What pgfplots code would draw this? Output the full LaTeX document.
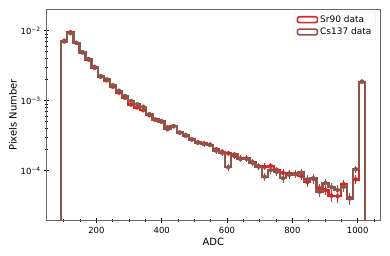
\documentclass[border=0pt]{standalone}
\usepackage{pgfplots}
\usepackage{pgfplotstable}
\pgfplotsset{compat=1.18}
\usepackage{fontspec}
\setmainfont{DejaVu Sans}
\definecolor{srred}{HTML}{D62728}
\definecolor{csbrown}{HTML}{8C564B}
\pgfplotstableread{
x      sr       srerr    cs       cserr
92.3   1e-7     0        1e-7     0
92.3   7.2e-3   1.02e-4  7.0e-3   1.0e-4
110.9  9.5e-3   1.17e-4  9.2e-3   1.15e-4
129.5  6.7e-3   9.8e-5   6.7e-3   9.8e-5
148.1  4.9e-3   8.4e-5   4.9e-3   8.4e-5
166.7  3.85e-3  7.4e-5   3.95e-3  7.5e-5
185.3  2.95e-3  6.5e-5   3.05e-3  6.6e-5
203.9  2.2e-3   5.6e-5   2.25e-3  5.7e-5
222.5  1.95e-3  5.3e-5   2.02e-3  5.4e-5
241.1  1.58e-3  4.8e-5   1.67e-3  4.9e-5
259.7  1.30e-3  4.3e-5   1.39e-3  4.5e-5
278.3  1.10e-3  4.0e-5   1.17e-3  4.1e-5
296.9  8.8e-4   3.6e-5   9.9e-4   3.8e-5
315.5  8.0e-4   3.4e-5   8.9e-4   3.6e-5
334.1  7.3e-4   3.2e-5   8.2e-4   3.4e-5
352.7  6.2e-4   3.0e-5   6.45e-4  3.0e-5
371.3  5.3e-4   2.8e-5   5.4e-4   2.8e-5
389.9  5.1e-4   2.7e-5   5.0e-4   2.7e-5
408.5  4.15e-4  2.4e-5   3.9e-4   2.4e-5
427.1  4.3e-4   2.5e-5   4.35e-4  2.5e-5
445.7  3.5e-4   2.2e-5   3.5e-4   2.2e-5
464.3  3.15e-4  2.1e-5   3.25e-4  2.2e-5
482.9  2.8e-4   2.0e-5   2.8e-4   2.0e-5
501.5  2.55e-4  1.9e-5   2.5e-4   1.9e-5
520.1  2.45e-4  1.9e-5   2.4e-4   1.9e-5
538.7  2.35e-4  1.8e-5   2.33e-4  1.8e-5
557.3  2.02e-4  1.7e-5   1.93e-4  1.7e-5
575.9  1.87e-4  1.6e-5   1.8e-4   1.6e-5
594.5  1.77e-4  1.6e-5   1.12e-4  1.3e-5
613.1  1.62e-4  1.5e-5   1.71e-4  1.6e-5
631.7  1.50e-4  1.5e-5   1.46e-4  1.45e-5
650.3  1.50e-4  1.5e-5   1.48e-4  1.46e-5
668.9  1.32e-4  1.4e-5   1.30e-4  1.37e-5
687.5  1.16e-4  1.3e-5   1.14e-4  1.28e-5
706.1  1.14e-4  1.3e-5   8.2e-5   1.09e-5
724.7  1.17e-4  1.3e-5   1.02e-4  1.21e-5
743.3  1.02e-4  1.2e-5   9.6e-5   1.18e-5
761.9  9.3e-5   1.16e-5  7.8e-5   1.06e-5
780.5  9.1e-5   1.14e-5  8.7e-5   1.12e-5
799.1  9.0e-5   1.14e-5  8.9e-5   1.13e-5
817.7  8.4e-5   1.1e-5   9.4e-5   1.16e-5
836.3  6.9e-5   1.0e-5   7.5e-5   1.04e-5
854.9  7.6e-5   1.05e-5  7.8e-5   1.06e-5
873.5  5.6e-5   9.0e-6   5.0e-5   8.5e-6
892.1  5.3e-5   8.7e-6   6.7e-5   9.8e-6
910.7  4.4e-5   8.0e-6   5.8e-5   9.1e-6
929.3  4.3e-5   7.9e-6   5.3e-5   8.7e-6
947.9  6.4e-5   9.6e-6   5.9e-5   9.2e-6
966.5  4.1e-5   7.7e-6   4.0e-5   7.6e-6
985.1  7.5e-5   1.04e-5  1.05e-4  1.23e-5
1003.7 1.87e-3  5.2e-5   1.87e-3  5.2e-5
1022.3 1.87e-3  0        1.87e-3  0
1022.3 1e-7     0        1e-7     0
}\histdata
\begin{document}
\begin{tikzpicture}
\path[use as bounding box] (-46.7bp,-35.3bp) rectangle (343.3bp,220.7bp);
\begin{axis}[
  at={(0,0)}, anchor=south west,
  scale only axis, width=333.3bp, height=211.7bp,
  ymode=log,
  xmin=47.7, xmax=1068.4,
  ymin=1.93e-5, ymax=0.0204,
  axis line style={draw=gray!80!black, line width=0.6pt},
  xtick={200,400,600,800,1000},
  xticklabels={200,400,600,800,1000},
  minor xtick={100,150,250,300,350,450,500,550,650,700,750,850,900,950,1050},
  ytick={1e-4,1e-3,1e-2},
  yticklabels={10\textsuperscript{−4},10\textsuperscript{−3},10\textsuperscript{−2}},
  tick align=center,
  xtick pos=bottom, ytick pos=left,
  major tick length=5bp, minor tick length=3bp,
  every tick/.style={black, line width=0.6pt},
  tick label style={font=\fontsize{8.5}{10}\selectfont},
  label style={font=\fontsize{10}{12}\selectfont},
  xlabel={ADC}, ylabel={Pixels Number},
  xlabel style={yshift=2bp},
  ylabel style={yshift=-3bp},
  legend style={at={(0.988,0.988)}, anchor=north east, draw=gray!20, rounded corners=2pt,
    font=\fontsize{9}{10.5}\selectfont, row sep=0pt, inner xsep=2.5pt, inner ysep=1.8pt,
    /tikz/every even column/.append style={column sep=1pt}},
  legend cell align=left,
  legend image code/.code={\draw[#1, line width=1.6pt, fill=white] (0bp,-2.9bp) rectangle (20bp,2.9bp);},
]
\addplot[const plot, srred, line width=2.3pt] table[x=x, y=sr] {\histdata};
\addlegendentry{Sr90 data}
\addplot[const plot, csbrown, line width=2.3pt] table[x=x, y=cs] {\histdata};
\addlegendentry{Cs137 data}
\addplot[forget plot, only marks, mark=none, srred,
  skip coords between index={0}{1}, skip coords between index={51}{53},
  error bars/.cd, y dir=both, y explicit, error mark=none,
  error bar style={srred, line width=0.9pt}]
  table[x expr=\thisrow{x}+9.3, y=sr, y error=srerr] {\histdata};
\addplot[forget plot, only marks, mark=none, csbrown,
  skip coords between index={0}{1}, skip coords between index={51}{53},
  error bars/.cd, y dir=both, y explicit, error mark=none,
  error bar style={csbrown, line width=0.9pt}]
  table[x expr=\thisrow{x}+9.3, y=cs, y error=cserr] {\histdata};
\end{axis}
\end{tikzpicture}
\end{document}
